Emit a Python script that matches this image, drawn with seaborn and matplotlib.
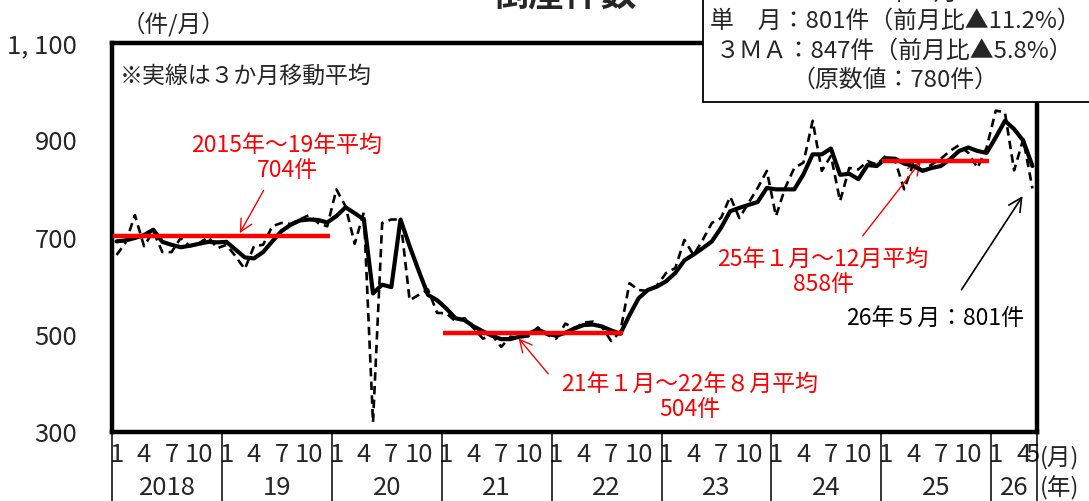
import numpy as np
import pandas as pd
import matplotlib
matplotlib.use('Agg')
import matplotlib.pyplot as plt
import matplotlib.ticker as mticker
from matplotlib.patches import Rectangle
import seaborn as sns

# 月次（季節調整値）と3か月移動平均、2018年1月〜2026年5月
monthly = [664, 690, 746, 682, 713, 670, 670, 699, 682, 688, 701, 678,
           685, 661, 635, 682, 685, 723, 730, 728, 737, 746, 730, 723,
           799, 764, 687, 752, 320, 730, 737, 737, 571, 582, 593, 545,
           544, 528, 534, 513, 492, 499, 475, 496, 494, 497, 515, 500,
           492, 523, 513, 525, 527, 516, 487, 506, 606, 592, 590, 601,
           627, 637, 695, 664, 695, 730, 740, 784, 740, 771, 802, 837,
           744, 802, 843, 854, 940, 837, 868, 775, 843, 840, 857, 850,
           868, 858, 799, 852, 838, 850, 862, 878, 890, 874, 843, 885,
           961, 957, 838, 902, 801]
ma3 = [692, 694, 699, 705, 716, 691, 685, 680, 683, 687, 691, 690,
       691, 675, 659, 657, 670, 692, 713, 726, 735, 737, 736, 731,
       744, 762, 750, 737, 585, 603, 598, 737, 682, 631, 582, 571,
       554, 534, 530, 517, 507, 498, 491, 491, 496, 502, 511, 502,
       498, 504, 513, 520, 521, 517, 509, 502, 540, 575, 592, 599,
       610, 627, 653, 665, 678, 692, 720, 754, 761, 767, 773, 802,
       799, 799, 799, 830, 871, 871, 883, 829, 831, 820, 849, 847,
       863, 862, 852, 847, 837, 843, 847, 861, 878, 885, 878, 874,
       906, 940, 923, 899, 847]
years = ['2018', '19', '20', '21', '22', '23', '24', '25', '26']
# 平均線: (開始月index, 終了月index, 値)
avg_start = [0, 36, 84]
avg_end = [23, 55, 95]
avg_value = [704, 504, 858]

n = len(monthly)
df = pd.DataFrame({'i': np.arange(n), 'monthly': monthly, 'ma3': ma3})

sns.set_style('white')
plt.rcParams['font.family'] = ['Noto Sans CJK JP', 'DejaVu Sans']

W, H = 1089, 501
fig = plt.figure(figsize=(W / 100, H / 100), dpi=100)
ax = fig.add_axes([112 / W, 1 - 432 / H, (1037 - 112) / W, (432 - 43) / H])


def px(x, y):
    return (x / W, 1 - y / H)


sns.lineplot(data=df, x='i', y='monthly', ax=ax, color='black', lw=1.9,
             linestyle=(0, (3.2, 2.0)), zorder=3)
sns.lineplot(data=df, x='i', y='ma3', ax=ax, color='black', lw=3.0, zorder=4)
for s, e, v in zip(avg_start, avg_end, avg_value):
    ax.plot([s - 0.4, e + 0.3], [v, v], color='red', lw=3.2, zorder=5,
            solid_capstyle='butt')

ax.set_xlim(-0.5, n - 0.5)
ax.set_ylim(300, 1100)
ax.set_yticks([300, 500, 700, 900, 1100])
ax.yaxis.set_major_formatter(mticker.FuncFormatter(
    lambda v, p: f'{v:,.0f}'.replace(',', ', ')))
ax.tick_params(axis='y', direction='in', length=6, width=1.2, pad=25,
               labelsize=18.5)

mpos, mlab = [], []
for k in range(n):
    m = k % 12 + 1
    if m in (1, 4, 7, 10) or k == n - 1:
        mpos.append(k)
        mlab.append(str(m))
ax.set_xticks(mpos)
ax.set_xticklabels(mlab)
ax.tick_params(axis='x', length=0, pad=7, labelsize=18.5)
ax.set_xlabel('')
ax.set_ylabel('')

for sp in ax.spines.values():
    sp.set_linewidth(3.2)
    sp.set_color('black')

# 年の区切り線と年ラベル
trans = ax.get_xaxis_transform()
bounds = [-0.5] + [12 * k - 0.5 for k in range(1, 9)] + [n - 0.5]
for b in bounds:
    ax.plot([b, b], [0, -0.2], transform=trans, color='black', lw=1.1,
            clip_on=False)
for k, yl in enumerate(years):
    c = (bounds[k] + bounds[k + 1]) / 2
    ax.text(c, -0.145, yl, transform=trans, ha='center', va='center',
            fontsize=18.5)

fig.text(*px(1040, 458), '(月)', ha='left', va='center', fontsize=17)
fig.text(*px(1040, 488), '(年)', ha='left', va='center', fontsize=17)
fig.text(*px(122, 24), '（件/月）', ha='left', va='center', fontsize=17)

fig.text(*px(120, 76), '※実線は３か月移動平均', ha='left', va='center',
         fontsize=16.5)

# 平均の注記
fig.text(*px(287, 158), '2015年〜19年平均\n704件', ha='center', va='center',
         color='red', fontsize=16.5, linespacing=1.15)
ax.annotate('', xy=(13.3, 704), xytext=px(265, 188),
            textcoords='figure fraction',
            arrowprops=dict(arrowstyle='->', color='red', lw=1,
                            mutation_scale=22))
fig.text(*px(690, 397), '21年１月〜22年８月平均\n504件', ha='center',
         va='center', color='red', fontsize=16.5, linespacing=1.15)
ax.annotate('', xy=(43.7, 497), xytext=px(550, 376),
            textcoords='figure fraction',
            arrowprops=dict(arrowstyle='->', color='red', lw=1,
                            mutation_scale=22))
fig.text(*px(823, 272), '25年１月〜12月平均\n858件', ha='center',
         va='center', color='red', fontsize=16.5, linespacing=1.15)
ax.annotate('', xy=(88.0, 861), xytext=px(861, 238),
            textcoords='figure fraction',
            arrowprops=dict(arrowstyle='->', color='red', lw=1,
                            mutation_scale=22))
fig.text(*px(935, 318), '26年５月：801件', ha='center', va='center',
         color='black', fontsize=16.5)
ax.annotate('', xy=(99.1, 790), xytext=px(960, 292),
            textcoords='figure fraction',
            arrowprops=dict(arrowstyle='->', color='black', lw=1.2,
                            mutation_scale=24))

# タイトルと最新値ボックス（上端で切れている）
fig.text(*px(565, 14), '倒産件数', ha='center', va='bottom', fontsize=26,
         fontweight='bold')
box = Rectangle(px(703, 102), 0.5, 0.5, transform=fig.transFigure,
                facecolor='white', edgecolor='black', lw=1.3, zorder=10)
fig.add_artist(box)
box_lines = ['2026年５月', '単　月：801件（前月比▲11.2%）',
             '３ＭＡ：847件（前月比▲5.8%）', '（原数値：780件）']
for yy, t in zip([-6, 21, 51, 80], box_lines):
    fig.text(*px(895, yy), t, ha='center', va='center', fontsize=17.2,
             zorder=11)

fig.savefig('out.png', dpi=100)
